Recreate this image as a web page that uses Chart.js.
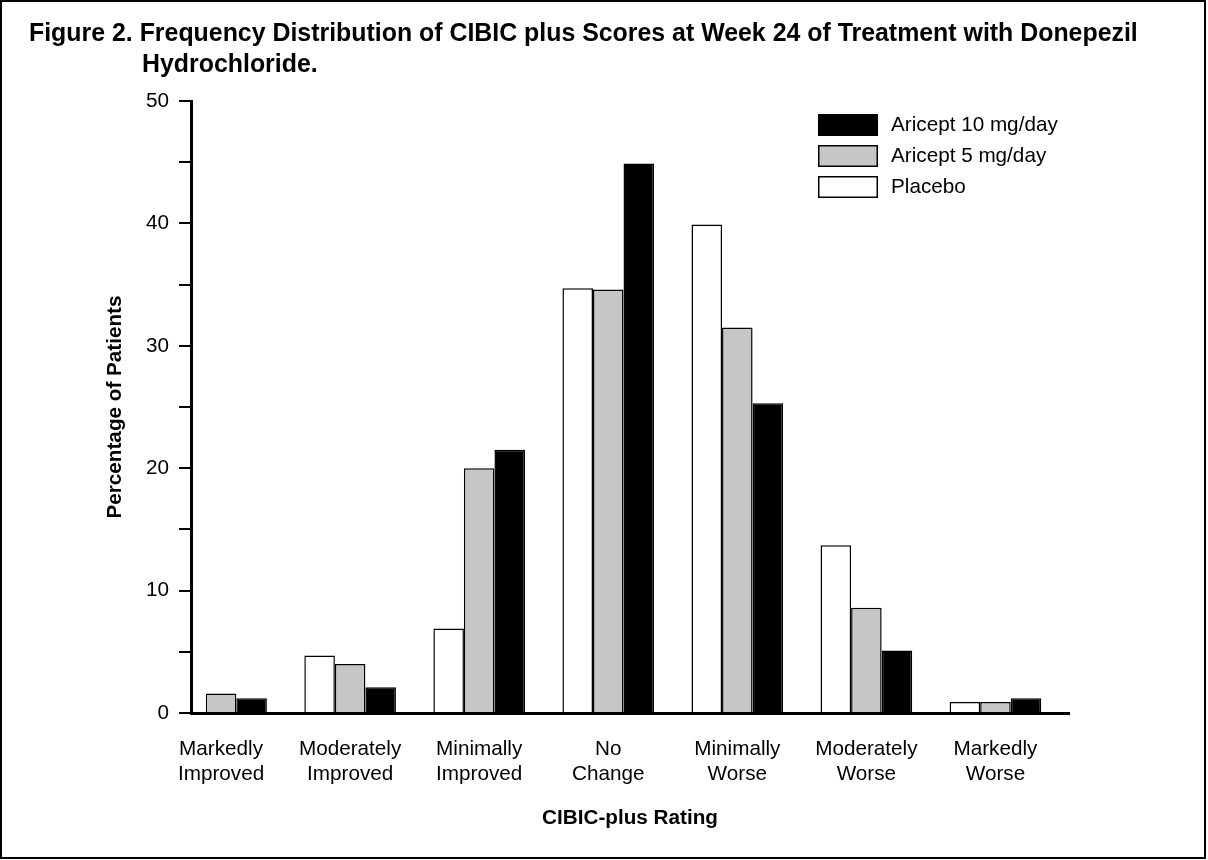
<!DOCTYPE html>
<html><head><meta charset="utf-8">
<script src="https://cdn.jsdelivr.net/npm/chart.js@4.4.1/dist/chart.umd.min.js"></script>
<style>
html,body{margin:0;padding:0;background:#fff;}
#wrap{position:relative;width:1208px;height:860px;overflow:hidden;background:#fff;}
#frame{position:absolute;left:0;top:0;width:1206px;height:859px;box-sizing:border-box;border:2px solid #000;pointer-events:none;}
.title{position:absolute;font-family:"Liberation Sans",Arial,Helvetica,sans-serif;font-weight:bold;font-size:24.9px;line-height:31px;white-space:nowrap;color:#000;}
canvas{position:absolute;left:0;top:0;}
</style></head><body>
<div id="wrap">
<canvas id="c" width="1208" height="860"></canvas>
<div class="title" style="left:29px;top:17px">Figure 2. Frequency Distribution of CIBIC plus Scores at Week 24 of Treatment with Donepezil</div>
<div class="title" style="left:142px;top:48px">Hydrochloride.</div>
<div id="frame"></div>
</div>
<script>
const categories = [
  ["Markedly", "Improved"],
  ["Moderately", "Improved"],
  ["Minimally", "Improved"],
  ["No", "Change"],
  ["Minimally", "Worse"],
  ["Moderately", "Worse"],
  ["Markedly", "Worse"]
];
const placebo   = [0,   4.7, 6.9, 34.7, 39.9, 13.7, 0.9];
const aricept5  = [1.6, 4.0, 20.0, 34.6, 31.5, 8.6, 0.9];
const aricept10 = [1.2, 2.1, 21.5, 44.9, 25.3, 5.1, 1.2];
const seriesLabels = ["Placebo", "Aricept 5 mg/day", "Aricept 10 mg/day"];
const seriesColors = ["#ffffff", "#c6c6c6", "#000000"];
const yTicks = [0, 5, 10, 15, 20, 25, 30, 35, 40, 45, 50];
const xTitle = "CIBIC-plus Rating";
const yTitle = "Percentage of Patients";

const FONT = '"Liberation Sans", Arial, Helvetica, sans-serif';
const FS = 20.7;
Chart.defaults.font.family = FONT;
Chart.defaults.color = '#000';

const toPoints = arr => arr.map((v, i) => ({x: i, y: v}));
const seriesValues = [placebo, aricept5, aricept10];

const datasets = seriesValues.map((vals, k) => ({
  label: seriesLabels[k],
  data: toPoints(vals),
  backgroundColor: seriesColors[k],
  borderColor: '#000',
  borderWidth: 1.5,
  borderSkipped: 'start',
  categoryPercentage: 0.71,
  barPercentage: 1.0
}));

const boxLegend = {
  id: 'boxLegend',
  afterDraw(chart) {
    const ctx = chart.ctx;
    const ds = chart.data.datasets.slice().reverse();
    const x0 = chart.chartArea.right - 251;
    const y0 = chart.chartArea.top + 13;
    ctx.save();
    ds.forEach((d, i) => {
      const y = y0 + i * 31;
      ctx.fillStyle = d.backgroundColor;
      ctx.fillRect(x0, y, 60, 22);
      ctx.strokeStyle = '#000';
      ctx.lineWidth = 1.5;
      ctx.strokeRect(x0 + 0.75, y + 0.75, 58.5, 20.5);
      ctx.fillStyle = '#000';
      ctx.font = FS + 'px ' + FONT;
      ctx.textBaseline = 'middle';
      ctx.textAlign = 'left';
      ctx.fillText(d.label, x0 + 73, y + 11);
    });
    ctx.restore();
  }
};

new Chart(document.getElementById('c'), {
  type: 'bar',
  data: { datasets },
  plugins: [boxLegend],
  options: {
    responsive: false,
    animation: false,
    layout: { padding: { top: 101, left: 0, right: 139, bottom: 0 } },
    plugins: { legend: { display: false }, tooltip: { enabled: false }, title: { display: false } },
    scales: {
      x: {
        type: 'linear',
        min: -0.233,
        max: 6.57,
        offset: false,
        z: 1,
        afterBuildTicks: s => { s.ticks = categories.map((_, i) => ({ value: i })); },
        afterFit: s => { s.height = 147; },
        ticks: {
          callback: v => categories[v],
          font: { size: FS },
          color: '#000',
          padding: 24,
          maxRotation: 0,
          autoSkip: false
        },
        grid: { display: false, drawTicks: false },
        border: { display: true, color: '#000', width: 3 },
        title: {
          display: true, text: xTitle, color: '#000',
          font: { size: FS, weight: 'bold' },
          padding: { top: 0, bottom: 29 }
        }
      },
      y: {
        min: 0,
        max: 50,
        z: 1,
        afterBuildTicks: s => { s.ticks = yTicks.map(v => ({ value: v })); },
        afterFit: s => { s.width = 191; },
        ticks: {
          callback: v => (v % 10 === 0 ? String(v) : ''),
          font: { size: FS },
          color: '#000',
          padding: 10
        },
        grid: { drawOnChartArea: false, drawTicks: true, tickLength: 12, color: '#000', lineWidth: 2 },
        border: { display: true, color: '#000', width: 3 },
        title: {
          display: true, text: yTitle, color: '#000',
          font: { size: FS, weight: 'bold' },
          padding: { top: 103, bottom: 0 }
        }
      }
    }
  }
});
</script>
</body></html>
